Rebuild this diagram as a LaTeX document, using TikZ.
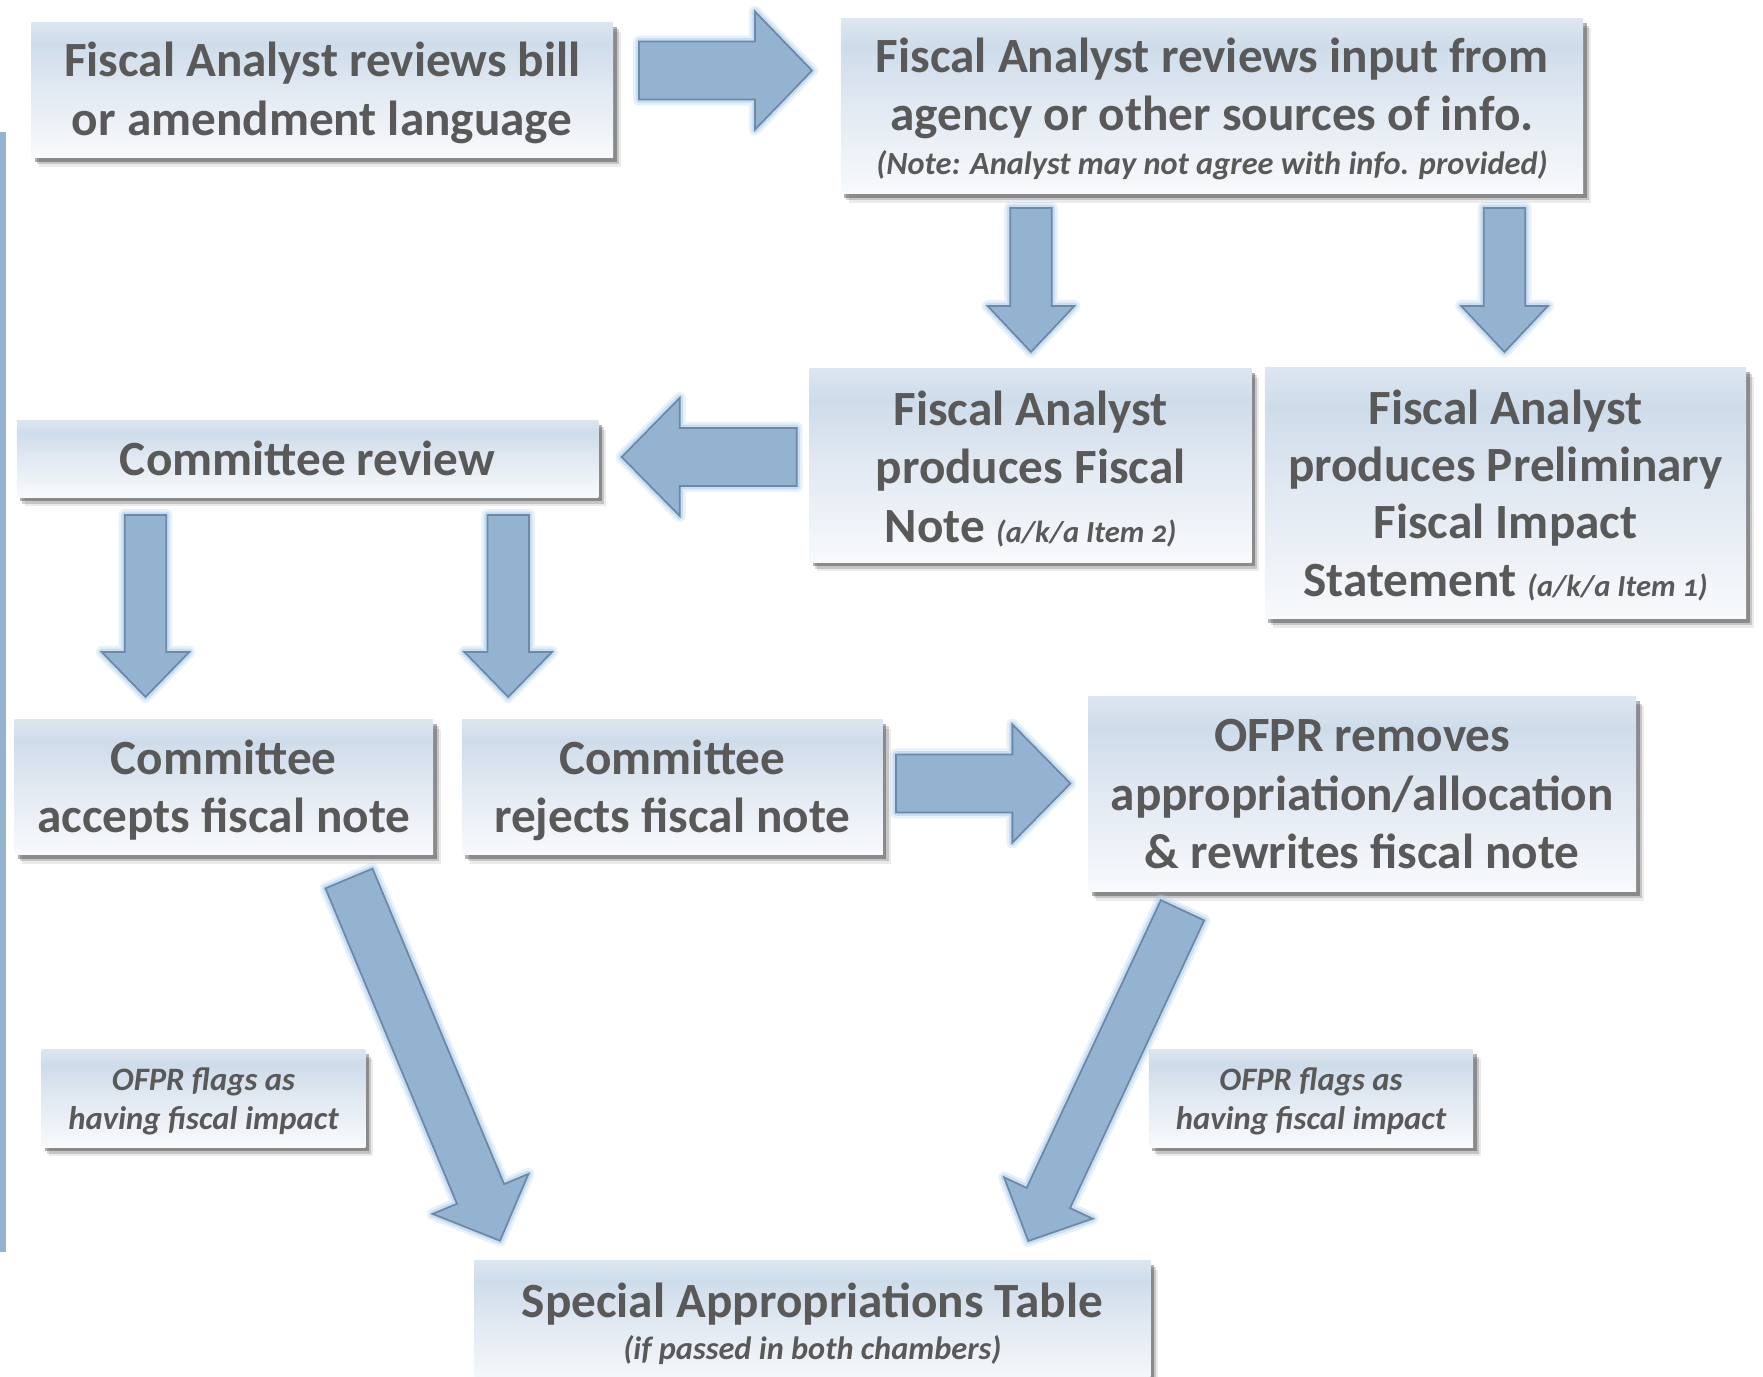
\documentclass[tikz,border=0pt]{standalone}
\usepackage{fontspec}
\setmainfont{Carlito}
\usetikzlibrary{calc,shadows}

\definecolor{txt}{HTML}{595959}
\definecolor{arrfill}{HTML}{94B3D1}
\definecolor{arrline}{HTML}{6B89A8}
\definecolor{glowc}{HTML}{BCD6EE}
\definecolor{barc}{HTML}{93B3D0}
\definecolor{bxtop}{HTML}{DCE6F0}
\definecolor{bxmid}{HTML}{CEDCEA}
\definecolor{bxlow}{HTML}{E2E9F2}
\definecolor{bxbot}{HTML}{F8FAFC}

% box fill: light band at the top, blue-grey just below it, fading to near white
\pgfdeclareverticalshading{boxshade}{100bp}{%
  color(0bp)=(bxbot); color(25bp)=(bxbot); color(50bp)=(bxlow);
  color(67bp)=(bxmid); color(75bp)=(bxtop); color(100bp)=(bxtop)}

\newcommand\fmain{\fontsize{14}{16.6}\selectfont\bfseries}
\newcommand\fmaintight{\fontsize{14}{16.3}\selectfont\bfseries}
\newcommand\fnote{\fontsize{9.2}{11}\selectfont\bfseries\itshape}
\newcommand\fitem{\fontsize{8.7}{11}\selectfont\bfseries\itshape\addfontfeatures{Numbers=OldStyle}}
\newcommand\fflag{\fontsize{9.3}{10.9}\selectfont\bfseries\itshape}

% a shaded box #2 at #3 with size options #4; its text #6 sits #5 below the centre
\newcommand\boxnode[6][boxtext]{%
  \node[box, #4] (#2) at (#3) {};
  \node[#1, yshift=-#5] (#2-t) at (#2.center) {#6};}

% block arrow from tail #1 to tip #2: half shaft width #3, half head width #4, head length #5
\newcommand\blockarrow[5]{%
  \coordinate (ba-base) at ($(#2)!#5!(#1)$);
  \draw[blk] ($(#1)!#3!90:(#2)$) -- ($(ba-base)!#3!-90:(#1)$)
    -- ($(ba-base)!#4!-90:(#1)$) -- (#2) -- ($(ba-base)!#4!90:(#1)$)
    -- ($(ba-base)!#3!90:(#1)$) -- ($(#1)!#3!-90:(#2)$) -- cycle;}

\tikzset{
  softshadow/.style={
    general shadow={fill=black, opacity=.08, shadow xshift=2.2pt, shadow yshift=-2.6pt},
    general shadow={fill=black, opacity=.16, shadow xshift=1.6pt, shadow yshift=-1.9pt},
    general shadow={fill=black, opacity=.30, shadow xshift=1.0pt, shadow yshift=-1.2pt}},
  box/.style={softshadow, shading=boxshade, inner sep=0pt},
  boxtext/.style={inner sep=0pt, align=center, text=txt, font=\fmain},
  tighttext/.style={boxtext, font=\fmaintight},
  flagtext/.style={boxtext, font=\fflag},
  blk/.style={fill=arrfill, draw=arrline, line width=0.5pt, line join=miter,
    preaction={draw=glowc, line width=3.4pt, opacity=.35, line join=round},
    preaction={draw=glowc, line width=1.9pt, opacity=.7, line join=round}},
}

\begin{document}
\begin{tikzpicture}[x=0.01cm, y=-0.01cm]
\useasboundingbox (0,0) rectangle (1763,1377);

% thin bar along the left edge
\fill[barc] (0,132) rectangle (6,1252);

% process boxes
\boxnode{A}{322.2,90}{minimum width=5.813cm, minimum height=1.349cm}{0.8pt}
  {Fiscal Analyst reviews bill\\or amendment language}
\boxnode{B}{1212,106.2}{minimum width=7.42cm, minimum height=1.744cm}{0.7pt}
  {Fiscal Analyst reviews input from\\agency or other sources of info.\\[-4.2pt]
   {\fnote (Note: Analyst may not agree with info. provided)}}
\boxnode{C}{1030.6,465.5}{minimum width=4.419cm, minimum height=1.934cm}{0.95pt}
  {Fiscal Analyst\\produces Fiscal\\Note {\fitem (a/k/a Item 2)}}
\boxnode[tighttext]{D}{1505.5,493}{minimum width=4.81cm, minimum height=2.507cm}{0.6pt}
  {Fiscal Analyst\\produces Preliminary\\Fiscal Impact\\Statement {\fitem (a/k/a Item 1)}}
\boxnode{E}{307.6,458.8}{minimum width=5.813cm, minimum height=0.765cm}{0pt}
  {Committee review}
\boxnode{F}{223.8,787}{minimum width=4.183cm, minimum height=1.349cm}{0.95pt}
  {Committee\\accepts fiscal note}
\boxnode{G}{672.4,787}{minimum width=4.207cm, minimum height=1.349cm}{0.95pt}
  {Committee\\rejects fiscal note}
\boxnode{H}{1362.2,794.3}{minimum width=5.476cm, minimum height=1.946cm}{0pt}
  {OFPR removes\\appropriation/allocation\\\& rewrites fiscal note}
\boxnode{I}{812.4,1323.6}{minimum width=6.758cm, minimum height=1.26cm}{0pt}
  {Special Appropriations Table\\[-4.5pt]{\fnote (if passed in both chambers)}}
\boxnode[flagtext]{J}{203.5,1098.5}{minimum width=3.238cm, minimum height=0.97cm}{0.85pt}
  {OFPR flags as\\having fiscal impact}
\boxnode[flagtext]{K}{1311,1098.5}{minimum width=3.24cm, minimum height=0.97cm}{0.85pt}
  {OFPR flags as\\having fiscal impact}

% arrow end points
\coordinate (ab1) at (639,70.6);    \coordinate (ab2) at (812,70.6);
\coordinate (bc1) at (1031,208);    \coordinate (bc2) at (1031,352);
\coordinate (bd1) at (1504.5,208);  \coordinate (bd2) at (1504.5,352);
\coordinate (ce1) at (796.7,457);   \coordinate (ce2) at (621.7,457);
\coordinate (ef1) at (145.5,515);   \coordinate (ef2) at (145.5,697);
\coordinate (eg1) at (508.2,515);   \coordinate (eg2) at (508.2,697);
\coordinate (gh1) at (896,783.5);   \coordinate (gh2) at (1070.4,783.5);
\coordinate (fi1) at (349,878.5);   \coordinate (fi2) at (500,1240.7);
\coordinate (hi1) at (1182.5,910.3); \coordinate (hi2) at (1028.3,1241);

% block arrows
\blockarrow{ab1}{ab2}{0.29cm}{0.59cm}{0.57cm}
\blockarrow{bc1}{bc2}{0.208cm}{0.433cm}{0.46cm}
\blockarrow{bd1}{bd2}{0.208cm}{0.433cm}{0.46cm}
\blockarrow{ce1}{ce2}{0.29cm}{0.59cm}{0.58cm}
\blockarrow{ef1}{ef2}{0.208cm}{0.438cm}{0.45cm}
\blockarrow{eg1}{eg2}{0.208cm}{0.438cm}{0.45cm}
\blockarrow{gh1}{gh2}{0.29cm}{0.59cm}{0.58cm}
\blockarrow{fi1}{fi2}{0.255cm}{0.519cm}{0.506cm}
\blockarrow{hi1}{hi2}{0.239cm}{0.488cm}{0.474cm}
\end{tikzpicture}
\end{document}
